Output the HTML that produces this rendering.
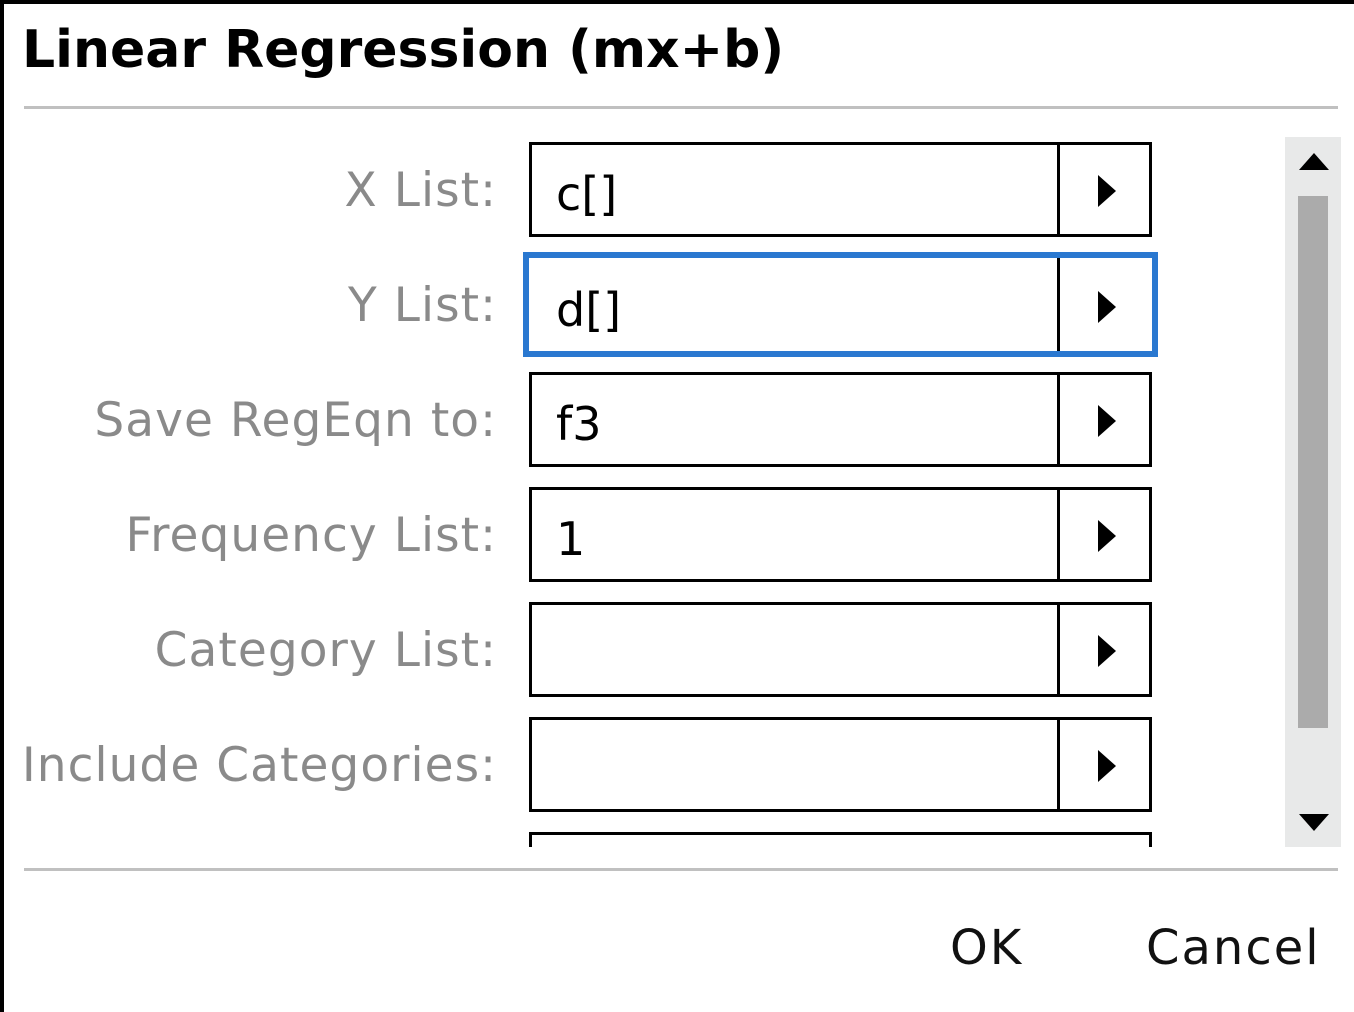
<!DOCTYPE html>
<html><head><style>
body{margin:0;width:1354px;height:1012px;background:#fff;position:relative;overflow:hidden;font-family:"DejaVu Sans","Liberation Sans",sans-serif}
.a{position:absolute}
.lbl{position:absolute;right:857px;color:#8a8a8a;font-size:47px;letter-spacing:1.05px;white-space:nowrap;line-height:1}
.box{position:absolute;left:529px;width:623px;height:95px;box-sizing:border-box;border:3px solid #000}
.box .sep{position:absolute;left:525px;top:0;bottom:0;width:3px;background:#000}
.box .tri{position:absolute;left:566px;top:30px;width:0;height:0;border-top:16px solid transparent;border-bottom:16px solid transparent;border-left:18px solid #000}
.box .v{position:absolute;left:24px;top:26px;font-size:46px;line-height:1;color:#000}
</style></head><body>
<div class="a" style="left:0;top:0;width:1354px;height:4px;background:#000"></div>
<div class="a" style="left:0;top:0;width:4px;height:1012px;background:#000"></div>
<div class="a" style="left:22px;top:24px;font-size:52px;font-weight:bold;line-height:1;color:#000">Linear Regression (mx+b)</div>
<div class="a" style="left:24px;top:106px;width:1314px;height:3px;background:#c0c0c0"></div>

<div class="lbl" style="top:167px">X List:</div>
<div class="lbl" style="top:282px">Y List:</div>
<div class="lbl" style="top:397px">Save RegEqn to:</div>
<div class="lbl" style="top:512px">Frequency List:</div>
<div class="lbl" style="top:627px">Category List:</div>
<div class="lbl" style="top:742px">Include Categories:</div>

<div class="box" style="top:142px"><div class="v">c[]</div><div class="sep"></div><div class="tri"></div></div>
<div class="box" style="top:252px;left:523px;width:635px;height:105px;border:6px solid #2a78d0"><div class="v" style="left:27px;top:29px">d[]</div><div class="sep" style="left:528px"></div><div class="tri" style="left:569px;top:33px"></div></div>
<div class="box" style="top:372px"><div class="v">f3</div><div class="sep"></div><div class="tri"></div></div>
<div class="box" style="top:487px"><div class="v">1</div><div class="sep"></div><div class="tri"></div></div>
<div class="box" style="top:602px"><div class="sep"></div><div class="tri"></div></div>
<div class="box" style="top:717px"><div class="sep"></div><div class="tri"></div></div>
<div class="a" style="left:529px;top:832px;width:623px;height:15px;box-sizing:border-box;border:3px solid #000;border-bottom:none"></div>

<div class="a" style="left:1285px;top:137px;width:56px;height:710px;background:#e8e9e9"></div>
<div class="a" style="left:1298px;top:196px;width:30px;height:532px;background:#ababab"></div>
<div class="a" style="left:1299px;top:153px;width:0;height:0;border-left:15px solid transparent;border-right:15px solid transparent;border-bottom:17px solid #000"></div>
<div class="a" style="left:1299px;top:814px;width:0;height:0;border-left:15px solid transparent;border-right:15px solid transparent;border-top:17px solid #000"></div>

<div class="a" style="left:24px;top:868px;width:1314px;height:3px;background:#c0c0c0"></div>
<div class="a" style="left:950px;top:924px;font-size:48px;letter-spacing:2px;line-height:1;color:#111">OK</div>
<div class="a" style="left:1146px;top:924px;font-size:48px;letter-spacing:2px;line-height:1;color:#111">Cancel</div>
</body></html>
